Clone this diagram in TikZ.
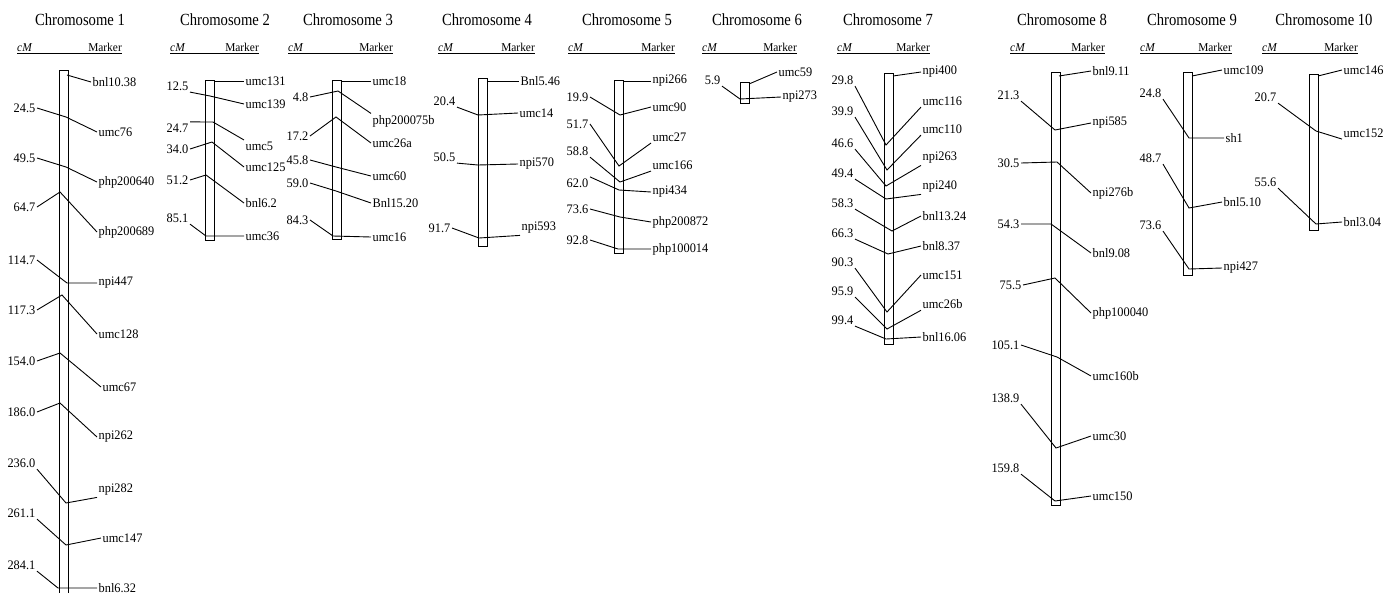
\documentclass[tikz,border=0pt]{standalone}
\usepackage{fontspec}
\setmainfont{Liberation Serif}
\newfontfamily\ttlfont[FakeStretch=0.86]{Liberation Serif}
\newfontfamily\labfont[FakeStretch=0.95]{Liberation Serif}
\usetikzlibrary{calc}

\tikzset{
  ttl/.style={font=\ttlfont\fontsize{17}{19}\selectfont, inner sep=0pt},
  sub/.style={font=\labfont\fontsize{12}{14}\selectfont, inner sep=0pt},
  uline/.style={line width=0.9pt},
  cml/.style={font=\labfont\fontsize{13}{15}\selectfont, anchor=east, inner sep=1.5pt},
  mkl/.style={font=\labfont\fontsize{13}{15}\selectfont, anchor=west, inner sep=1.5pt},
  link/.style={line width=0.9pt},
  chrbar/.style={draw, fill=white, line width=1.4pt, rectangle, inner sep=0pt, minimum width=9pt, anchor=north west},
}

% chromosome header: id, number, title centre x, cM left x, Marker right x
\newcommand\chrhead[5]{%
  \node[ttl] (t#1) at (#3,20) {Chromosome #2};
  \node[sub, anchor=base west] (u#1) at (#4,51) {\textit{cM}};
  \node[sub, anchor=base east] (v#1) at (#5,51) {Marker};
  \draw[uline] ([yshift=-2.5pt]u#1.base west) -- ([yshift=-2.5pt]v#1.base east);
}
% marker with map position: id, cM, cM pos, start anchor, join on bar, name, name pos, end anchor
\newcommand\mk[8]{%
  \node[cml] (c#1) at (#3) {#2};
  \coordinate (j#1) at (#5);
  \node[mkl] (m#1) at (#7) {#6};
  \draw[link] (c#1.#4) -- (j#1) -- (m#1.#8);
}
% top marker: id, start on bar, name, name pos
\newcommand\mtop[4]{%
  \coordinate (s#1) at (#2);
  \node[mkl] (m#1) at (#4) {#3};
  \draw[link] (s#1) -- (m#1.west);
}

\begin{document}
\begin{tikzpicture}[x=1pt,y=-1pt]
\clip (0,0) rectangle (1391,592);
\fill[white] (0,0) rectangle (1391,592);

% headers
\chrhead{1}{1}{80}{17}{122}
\chrhead{2}{2}{225}{170}{259}
\chrhead{3}{3}{348}{288}{393}
\chrhead{4}{4}{487}{438}{535}
\chrhead{5}{5}{627}{568}{675}
\chrhead{6}{6}{757}{702}{797}
\chrhead{7}{7}{888}{837}{930}
\chrhead{8}{8}{1062}{1010}{1105}
\chrhead{9}{9}{1192}{1140}{1232}
\chrhead{10}{10}{1324}{1262}{1358}

% chromosome bars
\node[chrbar, minimum height=540pt] (b1) at (59,70) {};
\node[chrbar, minimum height=160pt] (b2) at (205,80) {};
\node[chrbar, minimum height=159pt] (b3) at (332,80) {};
\node[chrbar, minimum height=168pt] (b4) at (478,78) {};
\node[chrbar, minimum height=173pt] (b5) at (614,80) {};
\node[chrbar, minimum height=21pt]  (b6) at (740,82) {};
\node[chrbar, minimum height=271pt] (b7) at (884,73) {};
\node[chrbar, minimum height=433pt] (b8) at (1051,72) {};
\node[chrbar, minimum height=203pt] (b9) at (1183,72) {};
\node[chrbar, minimum height=156pt] (b10) at (1309,74) {};

% chromosome 1
\mtop{a0}{67,75}{bnl10.38}{91,82}
\mk{a1}{24.5}{37,108}{east}{66,117}{umc76}{97,132}{west}
\mk{a2}{49.5}{37,158}{east}{66,167}{php200640}{97,182}{west}
\mk{a3}{64.7}{37,207}{east}{60,192}{php200689}{97,232}{west}
\mk{a4}{114.7}{37,260}{east}{67,283}{npi447}{97,283}{west}
\mk{a5}{117.3}{37,310}{east}{62,295}{umc128}{97,334}{west}
\mk{a6}{154.0}{37,361}{east}{60,353}{umc67}{101,387}{west}
\mk{a7}{186.0}{37,412}{east}{60,403}{npi262}{97,437}{west}
\mk{a8}{236.0}{37,463}{south east}{66,503}{npi282}{97,490}{south west}
\mk{a9}{261.1}{37,513}{south east}{66,545}{umc147}{101,538}{west}
\mk{a10}{284.1}{37,565}{south east}{58,588}{bnl6.32}{97,588}{west}

% chromosome 2
\mtop{b0}{214,81}{umc131}{244,81}
\mk{b1}{12.5}{190,86}{south east}{210,96}{umc139}{244,104}{west}
\mk{b2}{24.7}{190,128}{north east}{213,122}{umc5}{244,146}{north west}
\mk{b3}{34.0}{190,149}{east}{212,142}{umc125}{244,167}{west}
\mk{b4}{51.2}{190,180}{east}{206,175}{bnl6.2}{244,203}{west}
\mk{b5}{85.1}{190,218}{south east}{206,236}{umc36}{244,236}{west}

% chromosome 3
\mtop{c0}{341,81}{umc18}{371,81}
\mk{c1}{4.8}{310,97}{east}{338,91}{php200075b}{371,121}{north west}
\mk{c2}{17.2}{310,136}{east}{336,117}{umc26a}{371,143}{west}
\mk{c3}{45.8}{310,160}{east}{336,167}{umc60}{371,176}{west}
\mk{c4}{59.0}{310,183}{east}{336,191}{Bnl15.20}{371,203}{west}
\mk{c5}{84.3}{310,220}{east}{333,236}{umc16}{371,237}{west}

% chromosome 4
\mtop{d0}{487,81}{Bnl5.46}{519,81}
\mk{d1}{20.4}{457,101}{south east}{478,115}{umc14}{518,113}{west}
\mk{d2}{50.5}{457,157}{south east}{478,165}{npi570}{518,164}{west}
\mk{d3}{91.7}{452,228}{east}{479,238}{npi593}{520,228}{south west}

% chromosome 5
\mtop{e0}{623,81}{npi266}{651,81}
\mk{e1}{19.9}{590,97}{east}{620,115}{umc90}{651,107}{west}
\mk{e2}{51.7}{590,124}{east}{619,166}{umc27}{651,137}{south west}
\mk{e3}{58.8}{590,151}{south east}{620,182}{umc166}{651,165}{south west}
\mk{e4}{62.0}{590,183}{north east}{619,190}{npi434}{651,192}{west}
\mk{e5}{73.6}{590,209}{east}{620,217}{php200872}{651,222}{west}
\mk{e6}{92.8}{590,240}{east}{618,249}{php100014}{651,249}{west}

% chromosome 6
\mtop{f0}{749,84}{umc59}{777,72}
\mk{f1}{5.9}{722,80}{south east}{740,99}{npi273}{781,97}{west}

% chromosome 7
\mtop{g0}{893,76}{npi400}{921,72}
\mk{g1}{29.8}{855,80}{south east}{886,145}{umc116}{921,101}{south west}
\mk{g2}{39.9}{855,111}{south east}{887,170}{umc110}{921,129}{south west}
\mk{g3}{46.6}{855,143}{south east}{886,186}{npi263}{921,158}{south west}
\mk{g4}{49.4}{855,173}{south east}{886,199}{npi240}{921,187}{south west}
\mk{g5}{58.3}{855,203}{south east}{892,231}{bnl13.24}{921,216}{west}
\mk{g6}{66.3}{855,233}{south east}{888,254}{bnl8.37}{921,246}{west}
\mk{g7}{90.3}{855,262}{south east}{887,312}{umc151}{921,275}{west}
\mk{g8}{95.9}{855,291}{south east}{887,329}{umc26b}{921,304}{south west}
\mk{g9}{99.4}{855,320}{south east}{886,339}{bnl16.06}{921,337}{west}

% chromosome 8
\mtop{h0}{1059,76}{bnl9.11}{1091,71}
\mk{h1}{21.3}{1021,95}{south east}{1055,130}{npi585}{1091,123}{west}
\mk{h2}{30.5}{1021,163}{east}{1057,162}{npi276b}{1091,193}{west}
\mk{h3}{54.3}{1021,224}{east}{1051,224}{bnl9.08}{1091,253}{west}
\mk{h4}{75.5}{1023,285}{east}{1055,278}{php100040}{1091,313}{west}
\mk{h5}{105.1}{1021,345}{east}{1057,357}{umc160b}{1091,376}{west}
\mk{h6}{138.9}{1021,398}{south east}{1056,448}{umc30}{1091,436}{west}
\mk{h7}{159.8}{1021,468}{south east}{1055,501}{umc150}{1091,496}{west}

% chromosome 9
\mtop{i0}{1192,76}{umc109}{1222,70}
\mk{i1}{24.8}{1163,93}{south east}{1189,138}{sh1}{1224,138}{west}
\mk{i2}{48.7}{1163,158}{south east}{1189,208}{bnl5.10}{1222,202}{west}
\mk{i3}{73.6}{1163,225}{south east}{1189,269}{npi427}{1222,268}{west}

% chromosome 10
\mtop{k0}{1318,76}{umc146}{1342,70}
\mk{k1}{20.7}{1278,97}{south east}{1316,131}{umc152}{1342,133}{south west}
\mk{k2}{55.6}{1278,182}{south east}{1316,224}{bnl3.04}{1342,222}{west}
\end{tikzpicture}
\end{document}
